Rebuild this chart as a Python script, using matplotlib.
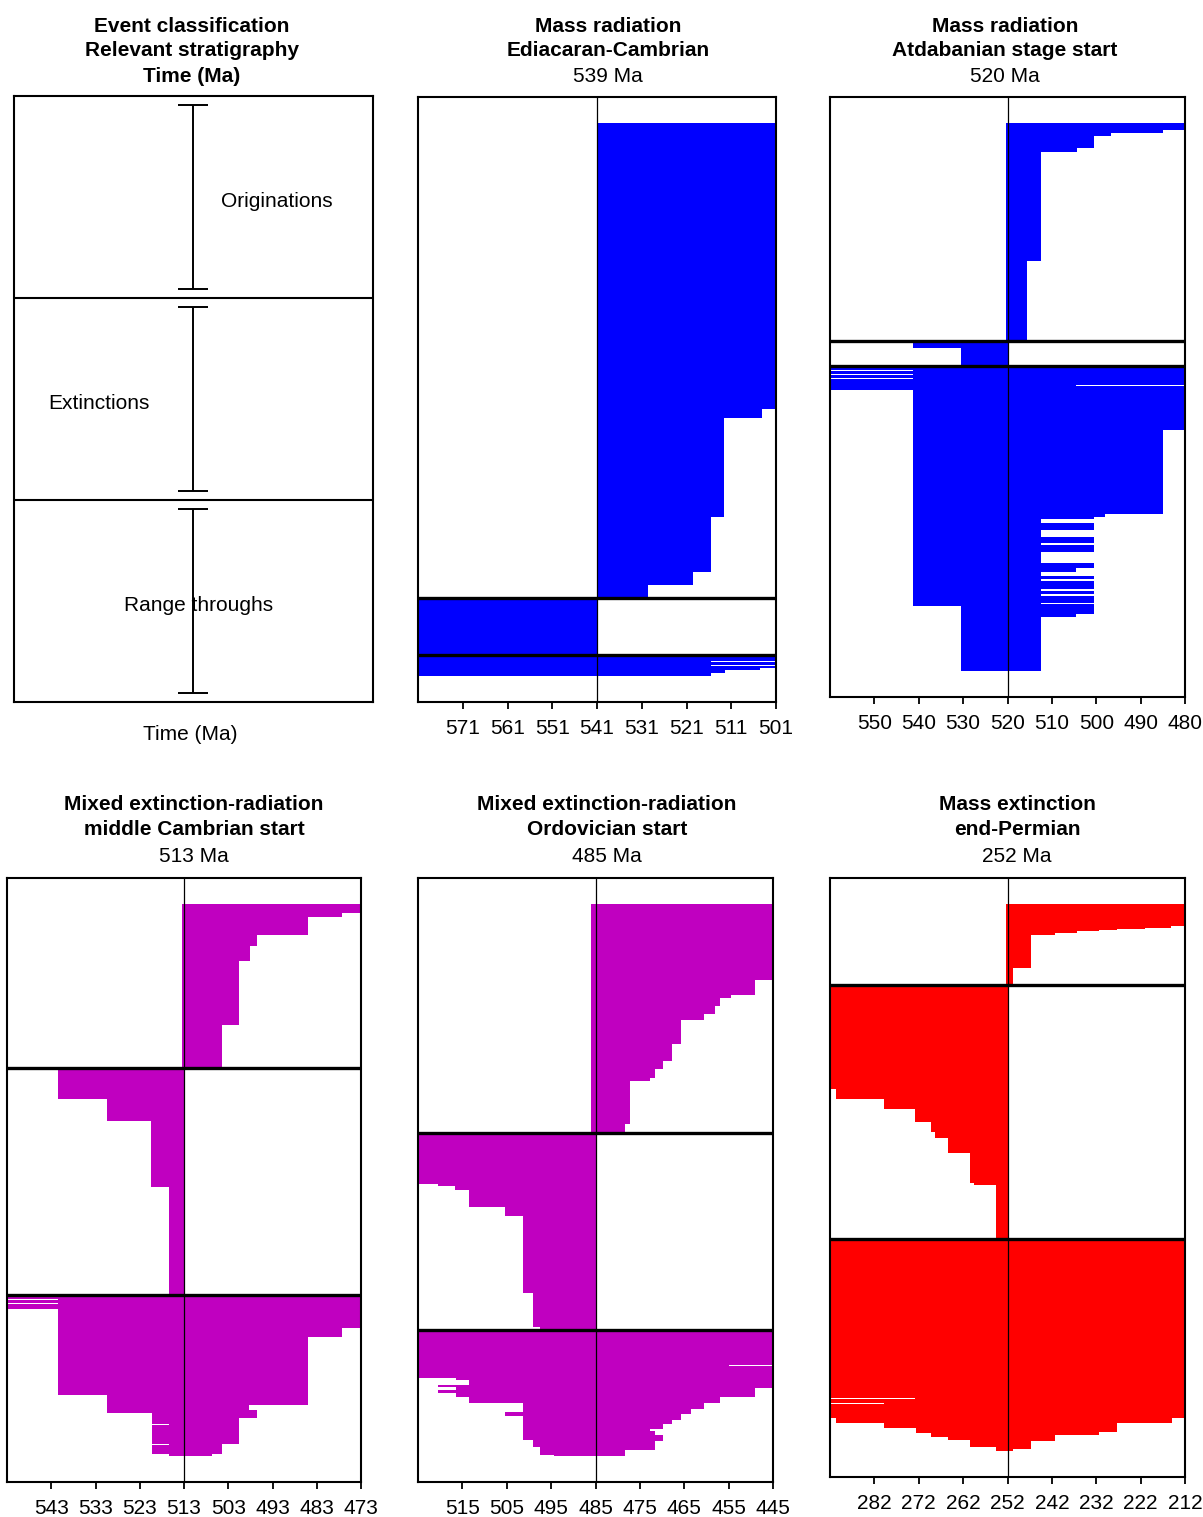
import numpy as np
import matplotlib.pyplot as plt

plt.rcParams['font.family'] = ['Liberation Sans', 'DejaVu Sans']
plt.rcParams['font.size'] = 15

# each segment: (first appearance Ma, last appearance Ma, number of genera), top to bottom
# Ediacaran-Cambrian
ec_orig = [(541, 495, 285), (541, 504.1, 9), (541, 512.6, 99), (541, 515.6, 55),
           (541, 519.6, 13), (541, 529.6, 13)]
ec_ext = [(590, 541, 57)]
ec_rt = [(590, 495, 6), (590, 515.5, 1), (590, 495, 3), (590, 515.5, 1), (590, 495, 2),
         (590, 504.6, 2), (590, 512.5, 3), (590, 515.5, 3)]

# Atdabanian stage start
at_orig = [(520.3, 475, 7), (520.3, 484.9, 3), (520.3, 496.7, 3), (520.3, 500.6, 12),
           (520.3, 504.4, 4), (520.3, 512.5, 108), (520.3, 515.6, 80)]
at_ext = [(565, 520, 1), (541.4, 520, 6), (530.4, 520, 18)]
at_rt = [(565, 475, 4), (541.4, 475, 1), (565, 475, 3), (541.4, 475, 1), (565, 475, 3),
         (541.4, 475, 1), (565, 475, 6), (565, 504.5, 1), (565, 475, 4),
         (541.4, 475, 39), (541.4, 484.9, 84), (541.4, 498, 3), (541.4, 500.6, 2),
         (541.4, 512.5, 4), (541.4, 500.6, 7), (541.4, 512.5, 7), (541.4, 500.6, 6),
         (541.4, 512.5, 2), (541.4, 500.6, 7), (541.4, 512.5, 10), (541.4, 500.6, 5),
         (541.4, 504.5, 4), (541.4, 512.5, 4), (541.4, 500.6, 3), (541.4, 512.5, 2),
         (541.4, 500.6, 8), (541.4, 512.5, 2), (541.4, 500.6, 3), (541.4, 512.5, 2),
         (541.4, 500.6, 7), (541.4, 512.5, 1), (541.4, 500.6, 2), (530.4, 500.6, 8),
         (530.4, 504.5, 3), (530.4, 512.5, 54)]

# middle Cambrian start
mc_orig = [(513.4, 470, 9), (513.4, 477.2, 4), (513.4, 484.9, 18), (513.4, 496.6, 11),
           (513.4, 498, 15), (513.4, 500.5, 63), (513.4, 504.5, 43)]
mc_ext = [(541.4, 513, 30), (530.4, 513, 22), (520.4, 513, 65), (516.3, 513, 107)]
mc_rt = [(556, 470, 4), (541.4, 470, 1), (556, 470, 3), (541.4, 470, 1), (556, 470, 5),
         (541.4, 470, 19), (541.4, 477.2, 9), (541.4, 484.9, 58), (530.4, 484.9, 9),
         (530.4, 498.3, 5), (530.4, 496.6, 3), (520.3, 496.6, 5), (520.3, 500.5, 6),
         (516.3, 500.5, 1), (520.3, 500.5, 19), (516.3, 504.5, 1), (520.3, 504.5, 9),
         (516.3, 506.6, 2)]

# Ordovician start
or_orig = [(486, 440, 75), (486, 449.1, 15), (486, 454.5, 3), (486, 457, 8), (486, 458, 8),
           (486, 460.6, 6), (486, 465.7, 24), (486, 467.7, 17), (486, 469.7, 8),
           (486, 471.5, 8), (486, 472.8, 3), (486, 477.3, 43), (486, 478.3, 9)]
or_ext = [(528, 485, 50), (520.4, 485, 2), (516.6, 485, 4), (513.4, 485, 17),
          (505.5, 485, 9), (501.4, 485, 76), (499, 485, 34), (497.5, 485, 3)]
or_rt = [(528, 440, 35), (528, 455, 1), (528, 440, 12), (516.4, 440, 2), (513.4, 440, 5),
         (520.4, 440, 2), (516.4, 440, 1), (516.4, 449.1, 2), (520.4, 449.1, 3),
         (516.4, 449.1, 3), (513.4, 457, 6), (501.4, 460.6, 6), (501.4, 463.4, 3),
         (505.5, 463.4, 2), (505.5, 465.7, 2), (501.4, 465.7, 4), (501.4, 467.7, 4),
         (501.4, 469.7, 5), (501.4, 472.8, 2), (501.4, 471.5, 4), (501.4, 469.7, 5),
         (499, 469.7, 1), (499, 471.5, 6), (497.4, 471.5, 3), (497.4, 478.3, 5),
         (494.4, 478.3, 1)]

# end-Permian
pt_orig = [(252.3, 208, 22), (252.3, 215.2, 2), (252.3, 221, 1), (252.3, 227.4, 1),
           (252.3, 231.4, 1), (252.3, 236.4, 2), (252.3, 241.4, 2), (252.3, 246.7, 33),
           (252.3, 250.7, 17)]
pt_ext = [(296, 252, 103), (290.6, 252, 10), (279.8, 252, 10), (272.8, 252, 12),
          (269.2, 252, 10), (268.4, 252, 6), (265.5, 252, 15), (260.4, 252, 30),
          (259.5, 252, 2), (254.5, 252, 53)]
pt_rt = [(296, 208, 158), (272.8, 208, 1), (296, 208, 4), (279.8, 208, 1), (296, 208, 14),
         (290.6, 215, 5), (279.8, 227.4, 5), (272.6, 227.4, 4), (272.6, 231.4, 1),
         (269.2, 231.4, 2), (269.2, 241.4, 2), (265.5, 241.4, 3), (260.4, 241.4, 1),
         (260.4, 246.7, 6), (254.5, 246.7, 2), (254.5, 250.7, 2)]

event_type = ["Mass radiation", "Mass radiation", "Mixed extinction-radiation",
              "Mixed extinction-radiation", "Mass extinction"]
strat = ["Ediacaran-Cambrian", "Atdabanian stage start", "middle Cambrian start",
         "Ordovician start", "end-Permian"]
event_age = [539, 520, 513, 485, 252]
line_age = [541, 520, 513, 485, 252]
groups = [(ec_orig, ec_ext, ec_rt), (at_orig, at_ext, at_rt), (mc_orig, mc_ext, mc_rt),
          (or_orig, or_ext, or_rt), (pt_orig, pt_ext, pt_rt)]
colors = ["#0000FF", "#0000FF", "#C000C0", "#C000C0", "#FF0000"]
classes = ["Originations", "Extinctions", "Range throughs"]

W, H = 1203, 1517
fig = plt.figure(figsize=(W / 100, H / 100), dpi=100)


def add_box(x0, y0, x1, y1):
    return fig.add_axes([x0 / W, 1 - y1 / H, (x1 - x0) / W, (y1 - y0) / H])


def expand(segs):
    n = [s[2] for s in segs]
    return np.repeat([s[0] for s in segs], n), np.repeat([s[1] for s in segs], n)


def style(ax):
    for sp in ax.spines.values():
        sp.set_linewidth(1.5)
    ax.set_yticks([])
    ax.tick_params(axis='x', length=5, width=1.3, pad=7, labelsize=15)


# legend panel
ax = add_box(14, 96, 373, 702)
ax.set_xlim(0, 1)
ax.set_ylim(3, 0)
ax.axhline(1, color='black', lw=1.5)
ax.axhline(2, color='black', lw=1.5)
ax.errorbar([0.5, 0.5, 0.5], [0.5, 1.5, 2.5], yerr=0.455, fmt='none', ecolor='black',
            elinewidth=1.4, capsize=11, capthick=1.4)
label_x = [0.733, 0.237, 0.513]
for i, c in enumerate(classes):
    ax.text(label_x[i], i + 0.52, c, ha='center', va='center', fontsize=15)
style(ax)
ax.set_xticks([])
fig.text(190 / W, 1 - 735 / H, "Time (Ma)", ha='center', va='center', fontsize=15)
for j, t in enumerate(["Event classification", "Relevant stratigraphy", "Time (Ma)"]):
    fig.text(192 / W, 1 - [26, 51, 77][j] / H, t, ha='center', va='center',
             fontsize=15, weight='bold')

boxes = [(418, 97, 776, 702), (830, 97, 1185, 697), (7, 878, 361, 1482),
         (418, 878, 773, 1482), (830, 878, 1185, 1477)]
title_x = [608, 1005, 194, 607, 1017]
title_y = [[26, 51, 77], [26, 51, 77], [805, 830, 856], [805, 830, 856], [805, 830, 856]]

for k in range(5):
    ax = add_box(*boxes[k])
    fad = []
    lad = []
    sizes = []
    for g in groups[k]:
        f, l = expand(g)
        fad.append(f)
        lad.append(l)
        sizes.append(len(f))
    fad = np.concatenate(fad)
    lad = np.concatenate(lad)
    n = len(fad)
    y = np.arange(n) + 0.5
    ax.barh(y, fad - lad, left=lad, height=1.0, color=colors[k],
            linewidth=0, antialiased=False)
    b = line_age[k]
    ax.set_xlim(b + 40, b - 40)
    m = 0.047 * n
    ax.set_ylim(n + m, -m)
    ax.axvline(b, color='black', lw=0.9)
    for c in np.cumsum(sizes)[:-1]:
        ax.axhline(c, color='black', lw=2.4)
    ax.set_xticks(np.arange(b + 30, b - 41, -10))
    style(ax)
    lines = [event_type[k], strat[k], "%d Ma" % event_age[k]]
    for j in range(3):
        fig.text(title_x[k] / W, 1 - title_y[k][j] / H, lines[j], ha='center', va='center',
                 fontsize=15, weight='bold' if j < 2 else 'normal')

fig.savefig("out.png", dpi=100)
